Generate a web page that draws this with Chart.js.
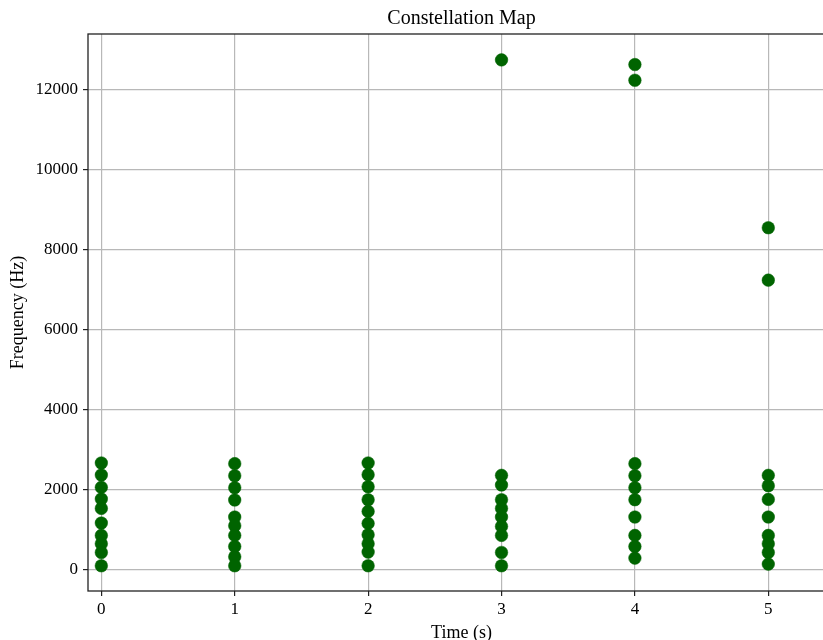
<!DOCTYPE html>
<html>
<head>
<meta charset="utf-8">
<script src="https://cdn.jsdelivr.net/npm/chart.js@4.4.0/dist/chart.umd.min.js"></script>
<style>
    html, body { margin: 0; padding: 0; background: #fff; overflow: hidden; }
    #wrap { width: 850px; height: 640px; }
</style>
</head>
<body>
<div id="wrap"><canvas id="myChart" width="850" height="640"></canvas></div>
<script>
"use strict";

// peak frequencies (Hz) found in each time slice
const times   = [0, 1, 2, 3, 4, 5];
const peaksT0 = [2667, 2367, 2058, 1767, 1533, 1167, 858, 650, 433, 100];
const peaksT1 = [2650, 2350, 2050, 1742, 1317, 1100, 858, 583, 325, 100];
const peaksT2 = [2667, 2375, 2075, 1750, 1458, 1158, 875, 650, 442, 100];
const peaksT3 = [12733, 2358, 2117, 1750, 1533, 1317, 1083, 858, 433, 100];
const peaksT4 = [12617, 12225, 2650, 2350, 2050, 1750, 1317, 858, 583, 292];
const peaksT5 = [8542, 7233, 2358, 2100, 1758, 1317, 858, 650, 433, 142];

const xTicks = [0, 1, 2, 3, 4, 5];
const yTicks = [0, 2000, 4000, 6000, 8000, 10000, 12000];

const chartTitle = 'Constellation Map';

const allPeaks = [peaksT0, peaksT1, peaksT2, peaksT3, peaksT4, peaksT5];

let points = [];
for (let i = 0; i < times.length; i++) {
    for (let j = 0; j < allPeaks[i].length; j++) {
        points.push({ x: times[i], y: allPeaks[i][j] });
    }
}

const serif = "'Liberation Serif', 'DejaVu Serif', serif";
const gridColor = '#b8b8b8';
const spineColor = '#222222';

// matplotlib-style full box round the axes, title centred over the axes
const boxPlugin = {
    id: 'box',
    afterDraw(chart) {
        const a = chart.chartArea;
        const ctx = chart.ctx;
        ctx.save();
        ctx.strokeStyle = spineColor;
        ctx.lineWidth = 1.3;
        ctx.strokeRect(a.left, a.top, a.right - a.left, a.bottom - a.top);

        ctx.fillStyle = '#000';
        ctx.font = '20px ' + serif;
        ctx.textAlign = 'center';
        ctx.textBaseline = 'alphabetic';
        ctx.fillText(chartTitle, (a.left + a.right) / 2, 24);
        ctx.restore();
    }
};

var ctx = document.getElementById('myChart').getContext('2d');

var myChart = new Chart(ctx, {
    type: 'scatter',
    data: {
        datasets: [{
            data: points,
            backgroundColor: '#006400',
            borderColor: '#006400',
            borderWidth: 0.5,
            pointRadius: 6.3
        }]
    },
    plugins: [boxPlugin],
    options: {
        responsive: false,
        animation: false,
        events: [],
        layout: { padding: { left: 0, right: 15, top: 34, bottom: 0 } },
        plugins: {
            legend: { display: false },
            tooltip: { enabled: false },
            title: { display: false }
        },
        scales: {
            x: {
                type: 'linear',
                min: -0.1,
                max: 5.5,
                afterBuildTicks: function(scale) {
                    scale.ticks = xTicks.map(v => ({ value: v }));
                },
                afterFit: function(scale) {
                    scale.height = 49;
                },
                grid: {
                    color: gridColor,
                    lineWidth: 1.2,
                    tickColor: spineColor,
                    tickLength: 5,
                    drawTicks: true
                },
                border: { display: false },
                ticks: {
                    color: '#000',
                    padding: 3,
                    maxRotation: 0,
                    font: { family: serif, size: 17 },
                    callback: v => String(v)
                },
                title: {
                    display: true,
                    text: 'Time (s)',
                    color: '#000',
                    font: { family: serif, size: 18 },
                    padding: { top: 0, bottom: -4 }
                }
            },
            y: {
                type: 'linear',
                min: -530,
                max: 13380,
                afterBuildTicks: function(scale) {
                    scale.ticks = yTicks.map(v => ({ value: v }));
                },
                afterFit: function(scale) {
                    scale.width = 88;
                },
                grid: {
                    color: gridColor,
                    lineWidth: 1.2,
                    tickColor: spineColor,
                    tickLength: 5,
                    drawTicks: true
                },
                border: { display: false },
                ticks: {
                    color: '#000',
                    padding: 5,
                    font: { family: serif, size: 17 },
                    callback: v => String(v)
                },
                title: {
                    display: true,
                    text: 'Frequency (Hz)',
                    color: '#000',
                    font: { family: serif, size: 18 },
                    padding: { top: 7, bottom: 0 }
                }
            }
        }
    }
});
</script>
</body>
</html>
